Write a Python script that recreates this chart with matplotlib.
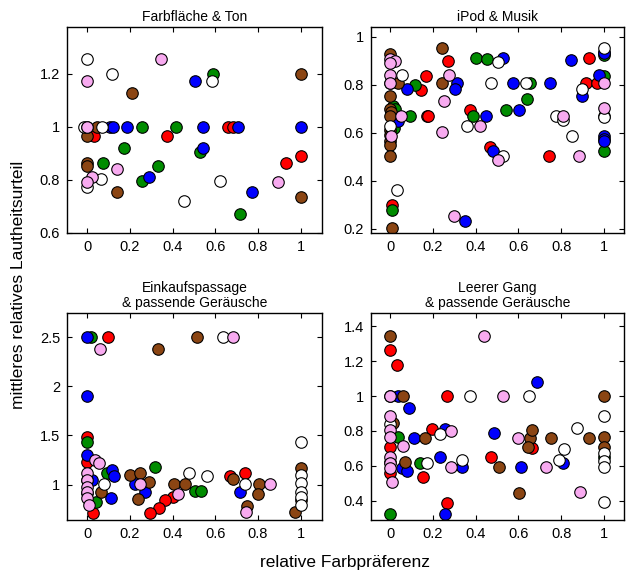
import matplotlib.pyplot as plt

plt.rcParams['font.family'] = ['Liberation Sans', 'DejaVu Sans']

# Farben der Versuchsbedingungen
farben = {'rot': '#ff0000', 'gruen': '#008c00', 'blau': '#0000ff',
          'braun': '#8b4513', 'weiss': '#ffffff', 'rosa': '#f8aaf0'}

##########################
# Farbfläche & Ton (o.l.) #
##########################
ton_rot = [(0.658, 1.0), (0.682, 1.0), (0.033, 0.964), (0.375, 0.964),
           (0.932, 0.862), (1.0, 0.889)]
ton_gruen = [(0.59, 1.2), (0.258, 1.0), (0.414, 1.0), (0.174, 0.92),
             (0.53, 0.905), (0.075, 0.862), (0.33, 0.852), (0.258, 0.795),
             (0.716, 0.671)]
ton_blau = [(0.505, 1.17), (0.106, 1.0), (0.12, 1.0), (0.185, 1.0),
            (0.544, 1.0), (0.708, 1.0), (1.0, 1.0), (0.544, 0.92),
            (0.291, 0.812), (0.77, 0.754)]
ton_braun = [(1.0, 1.2), (0.211, 1.128), (0.047, 1.0), (0.0, 0.964),
             (0.0, 0.864), (0.0, 0.852), (0.141, 0.754), (1.0, 0.737)]
ton_weiss = [(0.0, 1.253), (0.114, 1.2), (0.583, 1.17), (-0.015, 1.0),
             (0.0, 1.0), (0.067, 1.0), (0.063, 0.804), (0.0, 0.773),
             (0.622, 0.795), (0.453, 0.719)]
ton_rosa = [(0.0, 1.172), (0.344, 1.253), (0.0, 1.0), (0.024, 0.812),
            (0.0, 0.792), (0.138, 0.839), (0.896, 0.792)]

######################
# iPod & Musik (o.r.) #
######################
ipod_rot = [(0.273, 0.898), (0.931, 0.91), (0.167, 0.836), (0.916, 0.805),
            (0.966, 0.805), (0.143, 0.776), (0.374, 0.694), (0.171, 0.669),
            (0.178, 0.669), (0.467, 0.541), (0.741, 0.505), (0.008, 0.30)]
ipod_gruen = [(0.40, 0.91), (0.455, 0.905), (1.0, 0.923), (0.654, 0.805),
              (1.0, 0.836), (0.117, 0.797), (0.642, 0.739), (0.54, 0.694),
              (0.389, 0.669), (0.016, 0.713), (0.025, 0.70), (0.093, 0.669),
              (0.02, 0.62), (1.0, 0.523), (0.008, 0.277)]
ipod_blau = [(0.53, 0.91), (0.844, 0.903), (1.0, 0.937), (1.0, 0.93),
             (0.573, 0.805), (0.745, 0.805), (0.978, 0.839), (0.899, 0.752),
             (0.081, 0.783), (0.312, 0.805), (0.304, 0.78), (0.603, 0.694),
             (0.447, 0.669), (0.036, 0.648), (1.0, 0.588), (1.0, 0.574),
             (1.0, 0.565), (0.483, 0.523), (0.35, 0.234)]
ipod_braun = [(0.0, 0.926), (0.241, 0.954), (0.0, 0.805), (0.039, 0.805),
              (0.241, 0.805), (0.0, 0.752), (0.0, 0.70), (0.005, 0.685),
              (0.0, 0.669), (0.0, 0.613), (0.0, 0.592), (0.0, 0.565),
              (0.0, 0.551), (0.0, 0.502), (0.008, 0.203)]
ipod_weiss = [(1.0, 0.954), (0.506, 0.896), (0.01, 0.90), (0.055, 0.839),
              (0.472, 0.805), (0.634, 0.805), (0.899, 0.78), (0.776, 0.669),
              (0.807, 0.655), (1.0, 0.669), (1.0, 0.665), (0.358, 0.627),
              (0.0, 0.627), (0.849, 0.588), (0.53, 0.505), (0.031, 0.363)]
ipod_rosa = [(0.0, 0.905), (0.023, 0.898), (0.0, 0.89), (0.0, 0.84),
             (0.0, 0.805), (0.276, 0.839), (1.0, 0.805), (0.252, 0.732),
             (1.0, 0.704), (0.05, 0.669), (0.81, 0.669), (0.42, 0.627),
             (0.241, 0.602), (0.003, 0.588), (0.506, 0.485), (0.885, 0.505),
             (0.299, 0.255)]

############################################
# Einkaufspassage & passende Geräusche (u.l.) #
############################################
einkauf_rot = [(0.097, 2.5), (0.0, 1.482), (0.0, 1.234), (0.67, 1.088),
               (0.74, 1.115), (0.402, 0.878), (0.366, 0.844), (0.338, 0.759),
               (0.293, 0.708), (0.028, 0.715)]
einkauf_gruen = [(0.016, 2.5), (0.0, 1.431), (0.093, 1.122), (0.316, 1.176),
                 (0.506, 0.936), (0.533, 0.936), (0.039, 0.827)]
einkauf_blau = [(0.0, 2.5), (0.0, 1.906), (0.0, 1.302), (0.117, 1.149),
                (0.125, 1.088), (0.226, 1.007), (0.27, 0.922), (0.717, 0.929),
                (0.109, 0.861), (0.0, 0.912), (0.02, 1.05)]
einkauf_braun = [(0.332, 2.381), (0.514, 2.5), (0.2, 1.098), (0.245, 1.115),
                 (0.288, 1.03), (0.237, 0.851), (0.405, 1.007), (0.46, 1.007),
                 (0.685, 1.058), (0.807, 1.007), (0.8, 0.905), (0.748, 0.786),
                 (0.062, 0.929), (0.974, 0.725), (1.0, 1.167), (1.0, 0.844)]
einkauf_weiss = [(0.634, 2.5), (1.0, 1.438), (0.475, 1.122), (0.561, 1.088),
                 (0.74, 1.007), (1.0, 1.099), (1.0, 1.014), (1.0, 0.929),
                 (1.0, 0.878), (1.0, 0.793), (0.08, 1.007), (0.0, 1.05)]
einkauf_rosa = [(0.685, 2.5), (0.058, 2.381), (0.036, 1.251), (0.055, 1.217),
                (0.249, 1.007), (0.857, 1.007), (0.745, 0.725), (0.424, 0.905),
                (0.0, 1.115), (0.0, 1.047), (0.0, 0.98), (0.0, 0.929),
                (0.0, 0.861), (0.008, 0.793)]

#######################################
# Leerer Gang & passende Geräusche (u.r.) #
#######################################
gang_rot = [(0.0, 1.262), (0.031, 1.18), (0.265, 1.0), (0.195, 0.812),
            (0.0, 0.71), (0.662, 0.701), (0.472, 0.653), (0.153, 0.538),
            (0.0, 0.557), (0.268, 0.385)]
gang_gruen = [(0.039, 0.768), (0.14, 0.618), (1.0, 0.65), (0.0, 0.321)]
gang_blau = [(0.685, 1.08), (0.039, 1.0), (0.089, 0.931), (0.257, 0.812),
             (0.112, 0.758), (0.486, 0.787), (0.234, 0.653), (0.335, 0.592),
             (0.055, 0.59), (0.078, 0.572), (0.612, 0.592), (0.81, 0.618),
             (0.257, 0.321)]
gang_braun = [(0.0, 1.346), (0.062, 1.0), (1.0, 1.0), (0.016, 0.844),
              (0.164, 0.758), (0.654, 0.758), (0.665, 0.806), (0.646, 0.71),
              (0.752, 0.758), (0.931, 0.758), (1.0, 0.768), (1.0, 0.71),
              (0.07, 0.624), (0.511, 0.592), (0.604, 0.446)]
gang_weiss = [(0.0, 1.0), (0.374, 1.0), (0.651, 1.0), (1.0, 0.887),
              (0.234, 0.783), (0.875, 0.816), (0.171, 0.618), (0.335, 0.634),
              (0.791, 0.634), (0.815, 0.695), (1.0, 0.672), (1.0, 0.63),
              (1.0, 0.595), (1.0, 0.394), (0.0, 0.84), (0.0, 0.62)]
gang_rosa = [(0.439, 1.346), (0.0, 1.0), (0.527, 1.0), (0.0, 0.887),
             (0.283, 0.797), (0.0, 0.806), (0.0, 0.768), (0.059, 0.714),
             (0.6, 0.758), (0.283, 0.592), (0.729, 0.592), (0.888, 0.448),
             (0.0, 0.653), (0.0, 0.615), (0.0, 0.586), (0.008, 0.509)]

# Achsen: Titel, Position [px links, rechts, oben, unten], xlim, ylim, yticks
W, H = 627, 576
panels = [
    ('Farbfläche & Ton', (67, 322, 27, 233), (-0.095, 1.1), (0.6, 1.375),
     [0.6, 0.8, 1, 1.2],
     [ton_rot, ton_gruen, ton_blau, ton_braun, ton_weiss, ton_rosa]),
    ('iPod & Musik', (371, 624, 27, 233), (-0.089, 1.093), (0.183, 1.04),
     [0.2, 0.4, 0.6, 0.8, 1],
     [ipod_rot, ipod_gruen, ipod_blau, ipod_braun, ipod_weiss, ipod_rosa]),
    ('Einkaufspassage\n& passende Geräusche', (67, 322, 313, 520),
     (-0.095, 1.1), (0.64, 2.745), [1, 1.5, 2, 2.5],
     [einkauf_rot, einkauf_gruen, einkauf_blau, einkauf_braun,
      einkauf_weiss, einkauf_rosa]),
    ('Leerer Gang\n& passende Geräusche', (371, 624, 313, 520),
     (-0.089, 1.093), (0.289, 1.477), [0.4, 0.6, 0.8, 1, 1.2, 1.4],
     [gang_rot, gang_gruen, gang_blau, gang_braun, gang_weiss, gang_rosa]),
]
reihenfolge = ['rot', 'gruen', 'blau', 'braun', 'weiss', 'rosa']

fig = plt.figure(figsize=(W / 100, H / 100), dpi=100)
for titel, (l, r, o, u), xl, yl, yt, serien in panels:
    ax = fig.add_axes([l / W, 1 - u / H, (r - l) / W, (u - o) / H])
    for name, punkte in zip(reihenfolge, serien):
        xs = [p[0] for p in punkte]
        ys = [p[1] for p in punkte]
        ax.plot(xs, ys, 'o', ms=8.3, mfc=farben[name], mec='black',
                mew=0.8, linestyle='none')
    ax.set_xlim(xl)
    ax.set_ylim(yl)
    xt = [0, 0.2, 0.4, 0.6, 0.8, 1]
    ax.set_xticks(xt)
    ax.set_xticklabels(['%g' % v for v in xt])
    ax.set_yticks(yt)
    ax.set_yticklabels(['%g' % v for v in yt])
    ax.tick_params(direction='in', top=True, right=True, length=3.5,
                   width=0.8, labelsize=10.5, pad=5)
    for s in ax.spines.values():
        s.set_linewidth(1.0)
    ax.set_title(titel, fontsize=10, pad=4, linespacing=1.1)

fig.text(0.029, 0.505, 'mittleres relatives Lautheitsurteil', rotation=90,
         ha='center', va='center', fontsize=12.5)
fig.text(0.55, 0.023, 'relative Farbpräferenz', ha='center', va='center',
         fontsize=12.5)

fig.savefig('out.png', dpi=100)
